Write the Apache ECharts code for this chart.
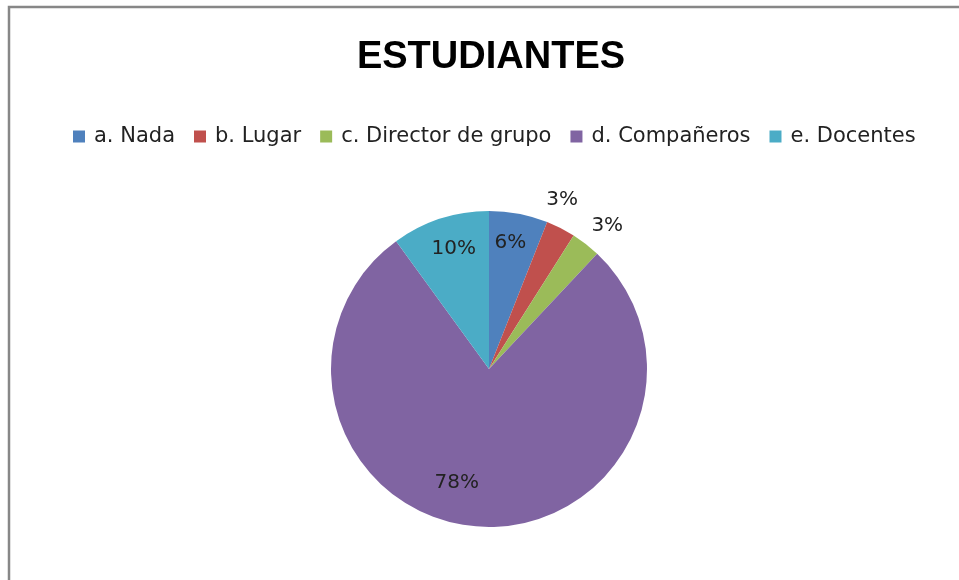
<!DOCTYPE html>
<html>
<head>
<meta charset="utf-8">
<script src="https://cdn.jsdelivr.net/npm/echarts@6/dist/echarts.min.js"></script>
<style>html,body{margin:0;padding:0;background:#fff;}#c{width:959px;height:580px;}</style>
</head>
<body>
<div id="c"></div>
<script>
const categories = ['a. Nada', 'b. Lugar', 'c. Director de grupo', 'd. Compañeros', 'e. Docentes'];
const values = [6, 3, 3, 78, 10];
const colors = ['#4F81BD', '#C0504D', '#9BBB59', '#8064A2', '#4BACC6'];
const labelOffsets = [[6, -46], [36, -96], [68, -78], [-27, 32], [-10, -42]];

const chart = echarts.init(document.getElementById('c'), null, {renderer: 'canvas'});
const data = categories.map((n, i) => ({
  name: n, value: values[i],
  itemStyle: {color: colors[i]},
  label: {offset: labelOffsets[i]}
}));
chart.setOption({
  animation: false,
  backgroundColor: '#fff',
  graphic: [{
    type: 'rect', shape: {x: 9, y: 7, width: 980, height: 600},
    style: {fill: 'none', stroke: '#878787', lineWidth: 2.5}, silent: true
  }],
  title: {
    text: 'ESTUDIANTES', left: 486, textAlign: 'center', top: 34,
    textStyle: {fontFamily: 'Liberation Sans', fontWeight: 'bold', fontSize: 38, color: '#000'}
  },
  legend: {
    top: 121, left: 68, itemWidth: 12, itemHeight: 12, itemGap: 19,
    icon: 'rect',
    textStyle: {fontFamily: 'DejaVu Sans', fontSize: 21, color: '#222', padding: [0, 0, 0, 4]},
    data: categories
  },
  series: [{
    type: 'pie', center: [489, 369], radius: [0, 158],
    startAngle: 90, clockwise: true, silent: true,
    label: {
      show: true, position: 'inside', formatter: p => p.value + '%',
      fontFamily: 'DejaVu Sans', fontSize: 20, color: '#222'
    },
    labelLine: {show: false},
    itemStyle: {borderWidth: 0},
    data: data
  }]
});
</script>
</body>
</html>
